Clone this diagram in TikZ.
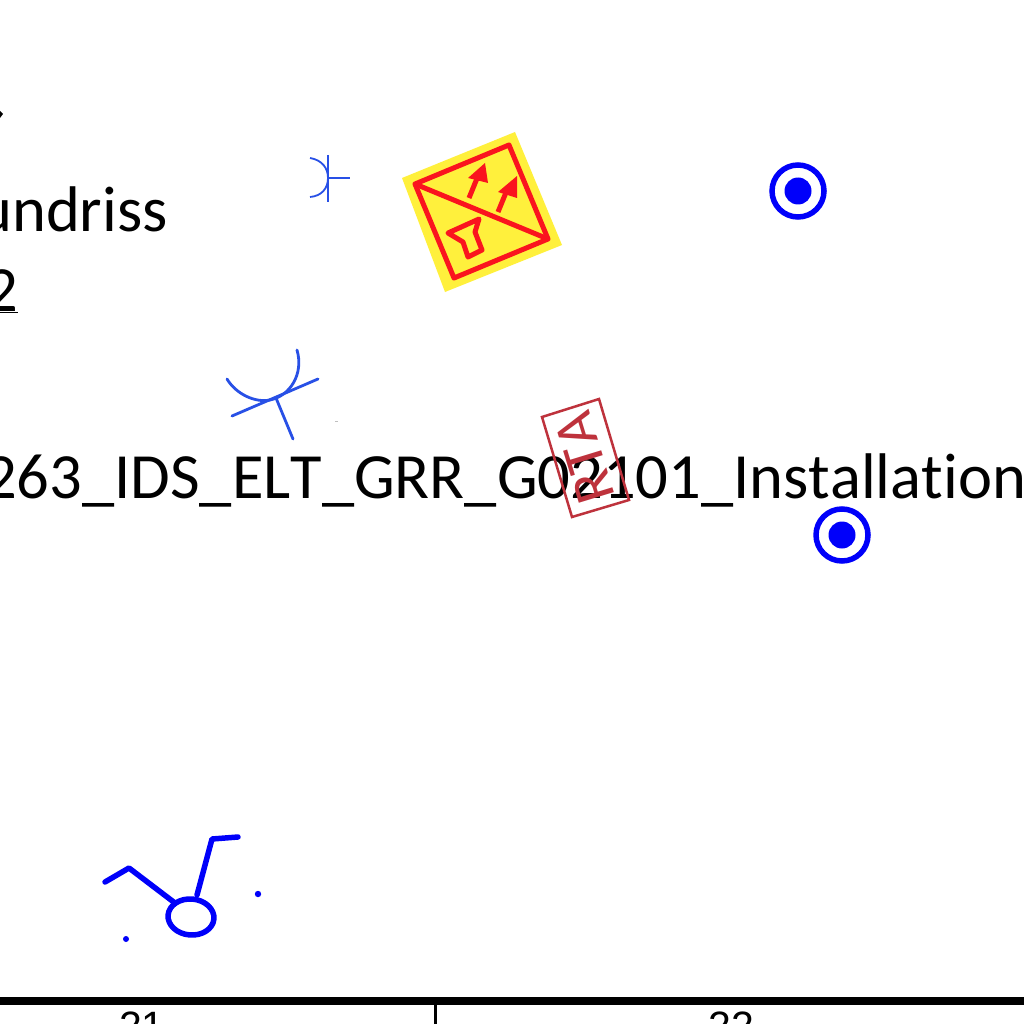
\documentclass[tikz,border=0pt]{standalone}
\usepackage{fontspec}
\setmainfont[Ligatures=NoCommon,Kerning=Off]{Carlito}
\newfontfamily\axisfont{Liberation Sans}
\definecolor{signyellow}{RGB}{255,240,60}
\definecolor{signred}{RGB}{250,20,30}
\definecolor{symblue}{RGB}{0,0,250}
\definecolor{thinblue}{RGB}{40,80,230}
\definecolor{stamp}{RGB}{190,50,60}
\tikzset{
  plantext/.style={inner sep=0pt,text=black,font=\fontsize{64.5}{64.5}\selectfont},
  axislabel/.style={inner sep=0pt,text=black,font=\axisfont\fontsize{41}{41}\selectfont},
  signline/.style={draw=signred,line width=5pt,line join=round},
  sym/.style={draw=symblue,line width=5.5pt,line join=round,line cap=round},
  thinsym/.style={draw=thinblue,line width=1.8pt},
  midsym/.style={draw=thinblue,line width=2.8pt,line cap=round},
  stampline/.style={draw=stamp,line width=2.5pt},
  target/.style={circle,draw=symblue,line width=5.5pt,fill=white,minimum size=52pt,inner sep=0pt},
  bullet/.style={circle,fill=symblue,minimum size=27pt,inner sep=0pt},
}
\begin{document}
\begin{tikzpicture}[x=1pt,y=-1pt]
\useasboundingbox (0,0) rectangle (1024,1024);
\clip (0,0) rectangle (1024,1024);
\fill[white] (0,0) rectangle (1024,1024);
% texts
\node[plantext,anchor=base east] (t1) at (168,232) {undriss};
\node[plantext,anchor=base east] (t2) at (18,311) {\underline{2}};
\node[plantext,anchor=base west] (t3) at (-16,498) {263\_IDS\_ELT\_GRR\_G02101\_Installation};
\fill[black] (0,111) -- (3,114) -- (0,118) -- cycle;
% sign
\fill[signyellow] (515,132) -- (402,178) -- (445,292) -- (562,245) -- cycle;
\draw[signline] (509,145) -- (415,184) -- (454,278) -- (548,239) -- cycle;
\draw[signline] (415,184) -- (548,239);
\draw[signred,line width=5pt] (469,198) -- (478,176);
\fill[signred] (485,163) -- (468,178) -- (488,183) -- cycle;
\draw[signred,line width=5pt] (498,212) -- (507,190);
\fill[signred] (517,176) -- (498,192) -- (517,198) -- cycle;
\draw[signline] (448,233) -- (479,219) -- (475,232) -- (482,250) -- (468,257) -- (463,242) -- cycle;
% thin blue symbols
\draw[thinsym] (328,155) -- (328,202);
\draw[thinsym] (328,178) -- (350,178);
\draw[thinsym] (310,158) .. controls (322,160) and (328,168) .. (328,178) .. controls (328,188) and (322,196) .. (310,197);
\draw[midsym] (232,416) -- (318,379);
\draw[midsym] (276,398) -- (293,439);
\draw[midsym] (227,379) .. controls (236,394) and (255,403) .. (270,400) .. controls (290,396) and (304,374) .. (297,350);
\fill[black!25] (335,421) rectangle (338,422);
% stamp
\draw[stampline] (599,399) -- (542,417) -- (572,517) -- (629,500) -- cycle;
\node[inner sep=0pt,text=stamp,rotate=107,font=\fontsize{57}{57}\selectfont] (rta) at (585,458) {RTA};
% targets
\node[target] (c1) at (798,191) {};
\node[bullet] (b1) at (798,191) {};
\node[target] (c2) at (842,535) {};
\node[bullet] (b2) at (842,535) {};
% bottom symbol
\draw[sym] (105,882) -- (129,868) -- (175,903);
\draw[sym] (197,895) -- (212,839) -- (238,837);
\draw[sym,rotate around={-5:(191,917)}] (191,917) ellipse (23 and 18);
\fill[symblue] (126,939) circle (3);
\fill[symblue] (258,894) circle (3.2);
% axis
\draw[black,line width=8pt] (0,1001) -- (1024,1001);
\draw[black,line width=3pt] (435,1001) -- (435,1024);
\node[axislabel,anchor=base] (l1) at (142,1040) {21};
\node[axislabel,anchor=base] (l2) at (731,1040) {22};
\end{tikzpicture}
\end{document}
